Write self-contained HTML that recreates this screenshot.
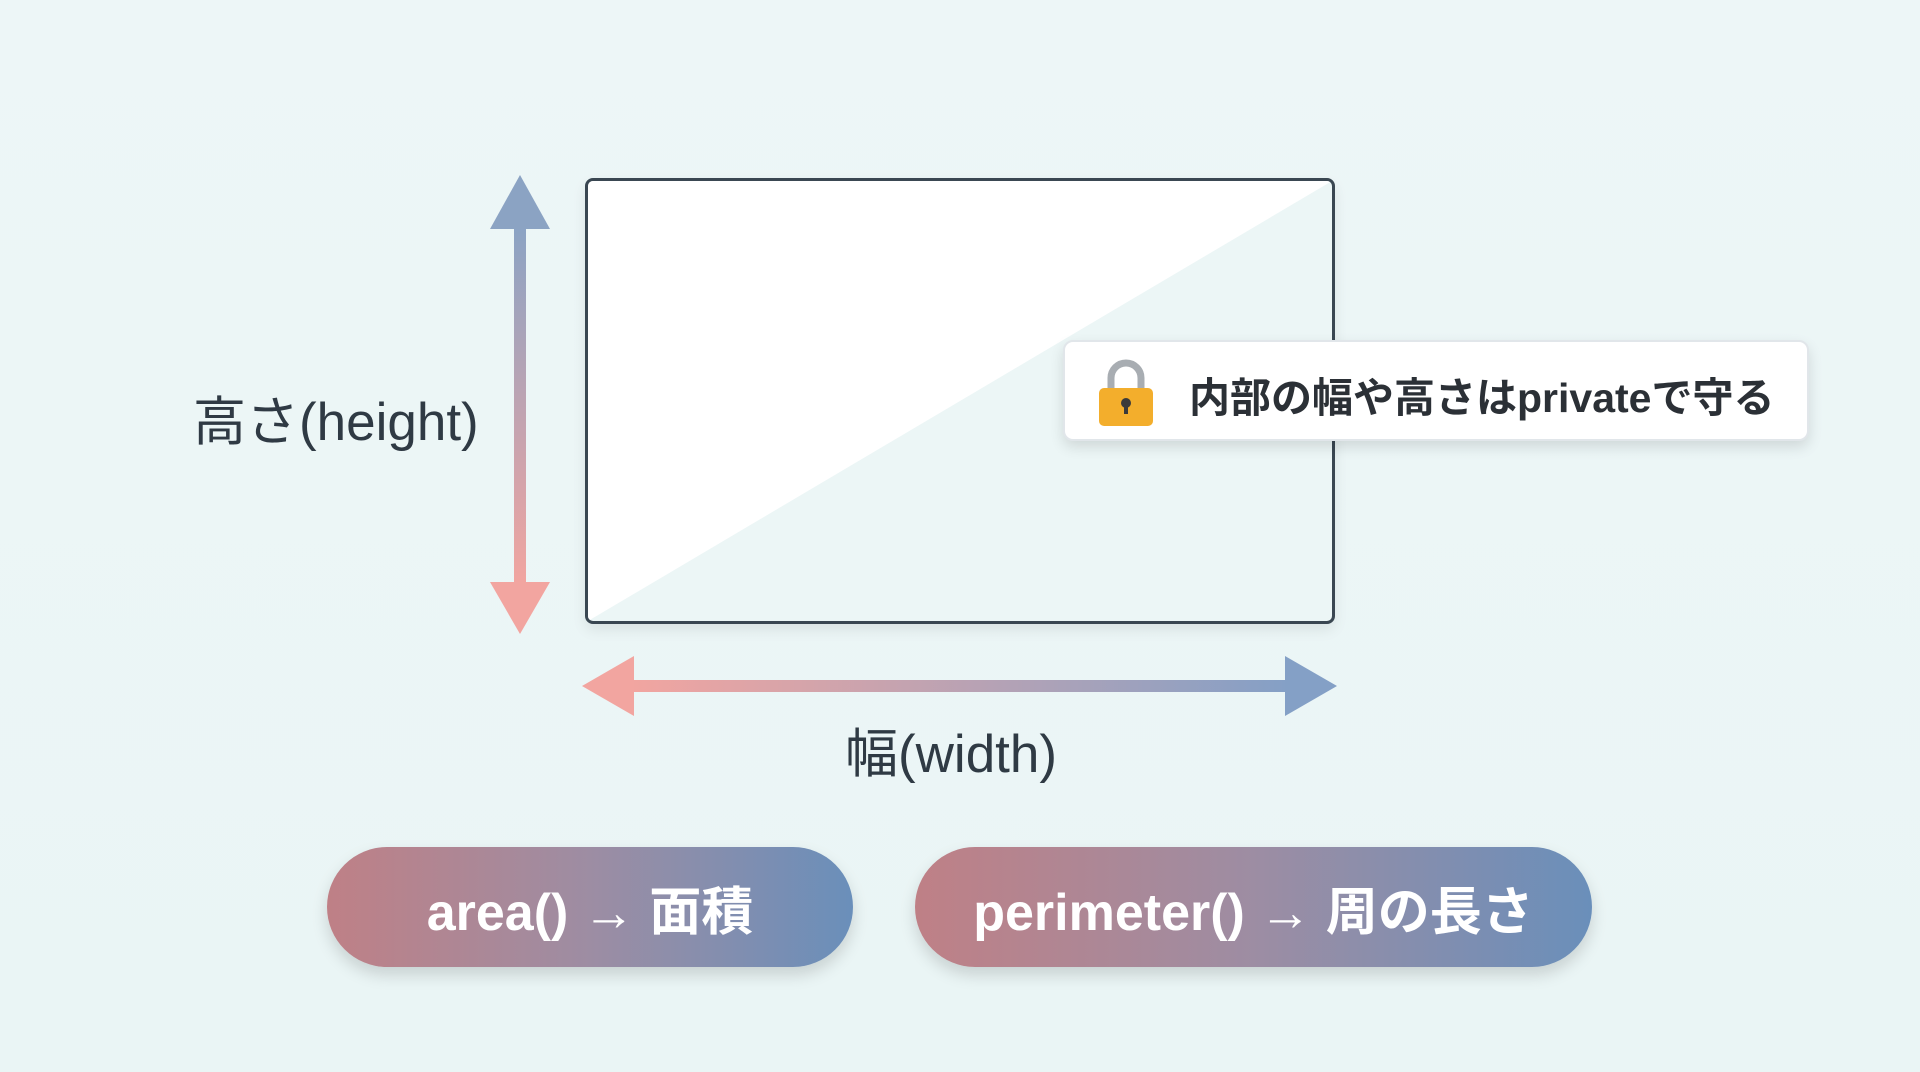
<!DOCTYPE html>
<html><head><meta charset="utf-8"><style>
body{margin:0;width:1920px;height:1072px;overflow:hidden;background:linear-gradient(180deg,#edf6f7,#eaf5f5);font-family:"Liberation Sans","Noto Sans CJK JP",sans-serif;position:relative}
.abs{position:absolute}
.rect{left:585px;top:178px;width:744px;height:440px;border:3px solid #3a4752;border-radius:8px;overflow:hidden;background:#ecf6f6;box-shadow:0 6px 14px rgba(0,0,0,.08)}
.lbl{color:#2f3a44;font-size:53px;white-space:nowrap}
.callout{left:1063px;top:340px;width:742px;height:97px;background:#fff;border:2px solid #e1e6ea;border-radius:10px;box-shadow:0 6px 14px rgba(0,0,0,.12)}
.pill{height:120px;top:847px;border-radius:60px;background:linear-gradient(90deg,#bf8086,#9d8da3 50%,#6a8fba);color:#fff;font-weight:bold;font-size:52px;display:flex;align-items:center;justify-content:center;box-shadow:0 8px 16px rgba(0,0,0,.15)}
</style></head><body>
<svg class="abs" style="left:0;top:0" width="1920" height="1072">
<defs>
<linearGradient id="gv" x1="0" y1="0" x2="0" y2="1"><stop offset="0" stop-color="#8aa3c4"/><stop offset="1" stop-color="#f2a5a0"/></linearGradient>
<linearGradient id="gh" x1="0" y1="0" x2="1" y2="0"><stop offset="0" stop-color="#f2a5a0"/><stop offset="1" stop-color="#84a0c6"/></linearGradient>
</defs>
<rect x="514" y="225" width="12" height="360" fill="url(#gv)"/>
<polygon points="520,175 490,229 550,229" fill="#8ba3c3"/>
<polygon points="520,634 490,582 550,582" fill="#f2a5a0"/>
<rect x="630" y="680" width="660" height="12" fill="url(#gh)"/>
<polygon points="582,686 634,656 634,716" fill="#f2a5a0"/>
<polygon points="1337,686 1285,656 1285,716" fill="#84a0c6"/>
</svg>
<div class="abs rect"><svg width="744" height="440" style="display:block"><polygon points="0,0 744,0 0,440" fill="#fff"/></svg></div>
<div class="abs lbl" style="left:193px;top:380px">高さ(height)</div>
<div class="abs lbl" style="left:845px;top:712px">幅(width)</div>
<div class="abs callout">
<svg class="abs" style="left:30px;top:14px" width="62" height="72">
<path d="M16 34 V22 a15 15 0 0 1 30 0 V34" fill="none" stroke="#a8adb2" stroke-width="7"/>
<rect x="4" y="32" width="54" height="38" rx="5" fill="#f3ae2c"/>
<circle cx="31" cy="47" r="5" fill="#3a3a3a"/><rect x="29" y="48" width="4" height="10" fill="#3a3a3a"/>
</svg>
<div class="abs" style="left:124px;top:22px;font-size:41px;font-weight:bold;color:#2b3036;white-space:nowrap">内部の幅や高さはprivateで守る</div>
</div>
<div class="abs pill" style="left:327px;width:526px">area() → 面積</div>
<div class="abs pill" style="left:915px;width:677px">perimeter() → 周の長さ</div>
</body></html>
